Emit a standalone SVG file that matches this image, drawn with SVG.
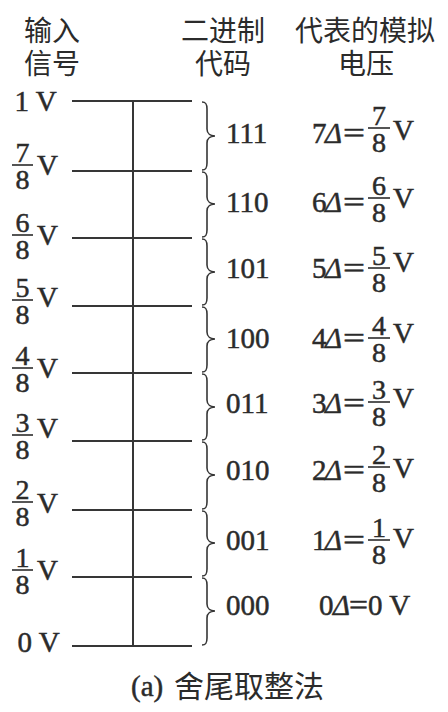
<svg xmlns="http://www.w3.org/2000/svg" width="448" height="712" viewBox="0 0 448 712">
<style>
.t{font-family:'Liberation Serif','Times New Roman',serif;font-size:29px;fill:#2b2b2b;stroke:#2b2b2b;stroke-width:0.5}
.f{font-family:'Liberation Serif','Times New Roman',serif;font-size:28px;fill:#2b2b2b;stroke:#2b2b2b;stroke-width:0.5;text-anchor:middle}
.h{font-family:'Noto Sans CJK SC',sans-serif;font-size:28px;fill:#2b2b2b;text-anchor:middle}
.c{font-family:'Noto Sans CJK SC',sans-serif;font-size:30px;fill:#2b2b2b}
.d{font-style:italic}
.ln{stroke:#363636;stroke-width:2;fill:none}
.bar{stroke:#2b2b2b;stroke-width:1.6}
.br{stroke:#363636;stroke-width:1.6;fill:none}
</style>
<rect width="448" height="712" fill="#fff"/>

<g id="headers">
  <g id="hdr-input"><text class="h" x="52" y="41">输入</text><text class="h" x="52" y="74">信号</text></g>
  <g id="hdr-code"><text class="h" x="223" y="41">二进制</text><text class="h" x="223" y="74">代码</text></g>
  <g id="hdr-volt"><text class="h" x="365" y="41">代表的模拟</text><text class="h" x="366" y="74">电压</text></g>
</g>

<g id="connectors">
  <line class="ln" x1="72" y1="101" x2="192" y2="101"/>
  <line class="ln" x1="72" y1="171" x2="192" y2="171"/>
  <line class="ln" x1="72" y1="238" x2="192" y2="238"/>
  <line class="ln" x1="72" y1="306" x2="192" y2="306"/>
  <line class="ln" x1="72" y1="373" x2="192" y2="373"/>
  <line class="ln" x1="72" y1="441" x2="192" y2="441"/>
  <line class="ln" x1="72" y1="510" x2="192" y2="510"/>
  <line class="ln" x1="72" y1="577" x2="192" y2="577"/>
  <line class="ln" x1="72" y1="646" x2="192" y2="646"/>
  <line class="ln" x1="133" y1="101" x2="133" y2="646"/>
</g>

<g id="braces">
  <path class="br" d="M202,102 C206,102 207,104 207,109 L207,129 C207,134 211,136 215,136 C211,136 207,138 207,143 L207,163 C207,168 206,170 202,170"/>
  <path class="br" d="M202,172 C206,172 207,174 207,179 L207,197 C207,202 211,204 215,204 C211,204 207,206 207,211 L207,230 C207,235 206,237 202,237"/>
  <path class="br" d="M202,239 C206,239 207,241 207,246 L207,265 C207,270 211,272 215,272 C211,272 207,274 207,279 L207,298 C207,303 206,305 202,305"/>
  <path class="br" d="M202,307 C206,307 207,309 207,314 L207,332 C207,337 211,339 215,339 C211,339 207,341 207,346 L207,365 C207,370 206,372 202,372"/>
  <path class="br" d="M202,374 C206,374 207,376 207,381 L207,400 C207,405 211,407 215,407 C211,407 207,409 207,414 L207,433 C207,438 206,440 202,440"/>
  <path class="br" d="M202,442 C206,442 207,444 207,449 L207,468 C207,473 211,475 215,475 C211,475 207,477 207,482 L207,502 C207,507 206,509 202,509"/>
  <path class="br" d="M202,511 C206,511 207,513 207,518 L207,536 C207,541 211,543 215,543 C211,543 207,545 207,550 L207,569 C207,574 206,576 202,576"/>
  <path class="br" d="M202,578 C206,578 207,580 207,585 L207,604 C207,609 211,611 215,611 C211,611 207,613 207,618 L207,638 C207,643 206,645 202,645"/>
</g>

<g id="input-labels">
  <g id="in-1"><text class="t" x="14.5" y="111">1 V</text></g>
  <g id="in-7"><text class="f" x="22.5" y="162">7</text><line class="bar" x1="12" y1="165" x2="33" y2="165"/><text class="f" x="22.5" y="189">8</text><text class="t" x="37" y="175">V</text></g>
  <g id="in-6"><text class="f" x="22.5" y="232">6</text><line class="bar" x1="12" y1="235" x2="33" y2="235"/><text class="f" x="22.5" y="259">8</text><text class="t" x="37" y="245">V</text></g>
  <g id="in-5"><text class="f" x="22.5" y="297">5</text><line class="bar" x1="12" y1="300" x2="33" y2="300"/><text class="f" x="22.5" y="324">8</text><text class="t" x="37" y="307">V</text></g>
  <g id="in-4"><text class="f" x="22.5" y="365">4</text><line class="bar" x1="12" y1="368" x2="33" y2="368"/><text class="f" x="22.5" y="392">8</text><text class="t" x="37" y="378">V</text></g>
  <g id="in-3"><text class="f" x="22.5" y="432">3</text><line class="bar" x1="12" y1="435" x2="33" y2="435"/><text class="f" x="22.5" y="459">8</text><text class="t" x="37" y="438">V</text></g>
  <g id="in-2"><text class="f" x="22.5" y="499">2</text><line class="bar" x1="12" y1="502" x2="33" y2="502"/><text class="f" x="22.5" y="526">8</text><text class="t" x="37" y="513">V</text></g>
  <g id="in-1-8"><text class="f" x="22.5" y="567">1</text><line class="bar" x1="12" y1="570" x2="33" y2="570"/><text class="f" x="22.5" y="594">8</text><text class="t" x="37" y="580">V</text></g>
  <g id="in-0"><text class="t" x="17.5" y="652">0 V</text></g>
</g>

<g id="codes">
  <text class="t" x="226" y="143">111</text>
  <text class="t" x="226" y="212">110</text>
  <text class="t" x="226" y="278">101</text>
  <text class="t" x="226" y="348">100</text>
  <text class="t" x="226" y="413">011</text>
  <text class="t" x="226" y="480">010</text>
  <text class="t" x="226" y="550">001</text>
  <text class="t" x="226" y="615">000</text>
</g>

<g id="values">
  <g id="v7"><text class="t" x="312" y="143">7</text><text class="t d" x="325" y="143">Δ</text><text class="t" x="343" y="143" textLength="22" lengthAdjust="spacingAndGlyphs">=</text><text class="f" x="379" y="125">7</text><line class="bar" x1="368" y1="128" x2="390" y2="128"/><text class="f" x="379" y="152">8</text><text class="t" x="393" y="140">V</text></g>
  <g id="v6"><text class="t" x="312" y="212">6</text><text class="t d" x="325" y="212">Δ</text><text class="t" x="343" y="212" textLength="22" lengthAdjust="spacingAndGlyphs">=</text><text class="f" x="379" y="195">6</text><line class="bar" x1="368" y1="198" x2="390" y2="198"/><text class="f" x="379" y="222">8</text><text class="t" x="393" y="208">V</text></g>
  <g id="v5"><text class="t" x="312" y="278">5</text><text class="t d" x="325" y="278">Δ</text><text class="t" x="343" y="278" textLength="22" lengthAdjust="spacingAndGlyphs">=</text><text class="f" x="379" y="265">5</text><line class="bar" x1="368" y1="268" x2="390" y2="268"/><text class="f" x="379" y="292">8</text><text class="t" x="393" y="272">V</text></g>
  <g id="v4"><text class="t" x="312" y="348">4</text><text class="t d" x="325" y="348">Δ</text><text class="t" x="343" y="348" textLength="22" lengthAdjust="spacingAndGlyphs">=</text><text class="f" x="379" y="335">4</text><line class="bar" x1="368" y1="338" x2="390" y2="338"/><text class="f" x="379" y="362">8</text><text class="t" x="393" y="343">V</text></g>
  <g id="v3"><text class="t" x="312" y="413">3</text><text class="t d" x="325" y="413">Δ</text><text class="t" x="343" y="413" textLength="22" lengthAdjust="spacingAndGlyphs">=</text><text class="f" x="379" y="399">3</text><line class="bar" x1="368" y1="402" x2="390" y2="402"/><text class="f" x="379" y="426">8</text><text class="t" x="393" y="408">V</text></g>
  <g id="v2"><text class="t" x="312" y="480">2</text><text class="t d" x="325" y="480">Δ</text><text class="t" x="343" y="480" textLength="22" lengthAdjust="spacingAndGlyphs">=</text><text class="f" x="379" y="464">2</text><line class="bar" x1="368" y1="467" x2="390" y2="467"/><text class="f" x="379" y="492">8</text><text class="t" x="393" y="478">V</text></g>
  <g id="v1"><text class="t" x="312" y="550">1</text><text class="t d" x="325" y="550">Δ</text><text class="t" x="343" y="550" textLength="22" lengthAdjust="spacingAndGlyphs">=</text><text class="f" x="379" y="537">1</text><line class="bar" x1="368" y1="540" x2="390" y2="540"/><text class="f" x="379" y="564">8</text><text class="t" x="393" y="548">V</text></g>
  <g id="v0"><text class="t" x="319" y="615">0</text><text class="t d" x="333" y="615">Δ</text><text class="t" x="349" y="615" textLength="19" lengthAdjust="spacingAndGlyphs">=</text><text class="t" x="368" y="615">0 V</text></g>
</g>

<g id="caption">
  <text class="t" x="131" y="696">(a)</text>
  <text class="c" x="174" y="697">舍尾取整法</text>
</g>
</svg>
